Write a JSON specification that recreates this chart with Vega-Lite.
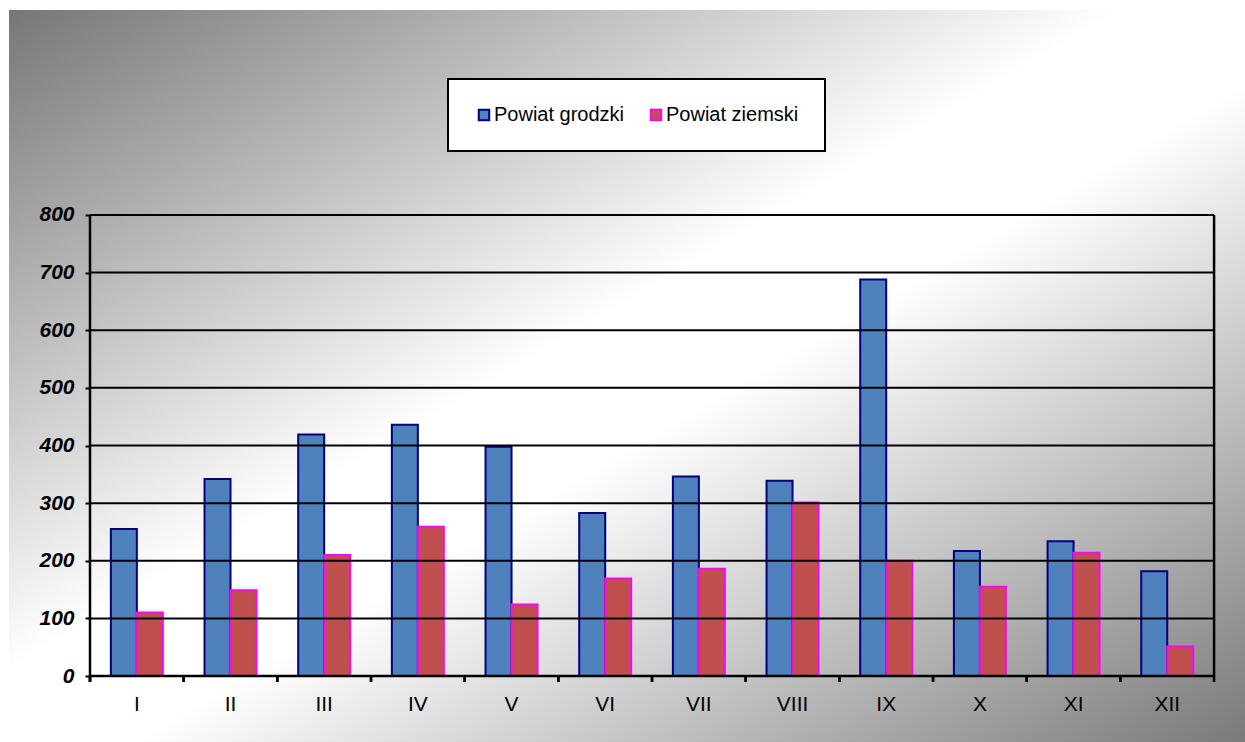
{
  "$schema": "https://vega.github.io/schema/vega-lite/v6.json",
  "width": 1236,
  "height": 732,
  "autosize": {"type": "none"},
  "padding": {"left": 9, "top": 10, "right": 0, "bottom": 0},
  "background": "#ffffff",
  "view": {
    "stroke": null,
    "fill": {
      "gradient": "linear",
      "x1": 0, "y1": 0, "x2": 1, "y2": 1,
      "stops": [
        {"offset": 0, "color": "#777777"},
        {"offset": 0.45, "color": "#ffffff"},
        {"offset": 0.55, "color": "#ffffff"},
        {"offset": 1, "color": "#7a7a7a"}
      ]
    }
  },
  "config": {
    "font": "Liberation Sans",
    "legend": {"strokeWidth": 2}
  },
  "datasets": {
    "months": [
      {"month": "I", "series": "Powiat grodzki", "value": 255},
      {"month": "I", "series": "Powiat ziemski", "value": 110},
      {"month": "II", "series": "Powiat grodzki", "value": 342},
      {"month": "II", "series": "Powiat ziemski", "value": 149},
      {"month": "III", "series": "Powiat grodzki", "value": 419},
      {"month": "III", "series": "Powiat ziemski", "value": 210},
      {"month": "IV", "series": "Powiat grodzki", "value": 436},
      {"month": "IV", "series": "Powiat ziemski", "value": 259},
      {"month": "V", "series": "Powiat grodzki", "value": 398},
      {"month": "V", "series": "Powiat ziemski", "value": 124},
      {"month": "VI", "series": "Powiat grodzki", "value": 283},
      {"month": "VI", "series": "Powiat ziemski", "value": 169},
      {"month": "VII", "series": "Powiat grodzki", "value": 346},
      {"month": "VII", "series": "Powiat ziemski", "value": 186},
      {"month": "VIII", "series": "Powiat grodzki", "value": 339},
      {"month": "VIII", "series": "Powiat ziemski", "value": 301},
      {"month": "IX", "series": "Powiat grodzki", "value": 688},
      {"month": "IX", "series": "Powiat ziemski", "value": 200},
      {"month": "X", "series": "Powiat grodzki", "value": 217},
      {"month": "X", "series": "Powiat ziemski", "value": 155},
      {"month": "XI", "series": "Powiat grodzki", "value": 234},
      {"month": "XI", "series": "Powiat ziemski", "value": 214},
      {"month": "XII", "series": "Powiat grodzki", "value": 182},
      {"month": "XII", "series": "Powiat ziemski", "value": 51}
    ],
    "grid": [
      {"level": 100}, {"level": 200}, {"level": 300}, {"level": 400},
      {"level": 500}, {"level": 600}, {"level": 700}, {"level": 800}
    ]
  },
  "layer": [
    {
      "data": {"name": "months"},
      "mark": {"type": "bar", "strokeWidth": 2},
      "encoding": {
        "x": {
          "field": "month",
          "type": "nominal",
          "sort": ["I", "II", "III", "IV", "V", "VI", "VII", "VIII", "IX", "X", "XI", "XII"],
          "scale": {"paddingInner": 0.445, "paddingOuter": 0.82, "align": 0.663, "round": false},
          "axis": {
            "title": null,
            "orient": "bottom",
            "offset": -66,
            "domain": false,
            "grid": false,
            "ticks": false,
            "tickSize": 6,
            "labelAngle": 0,
            "labelFont": "Liberation Sans",
            "labelFontSize": 21,
            "labelColor": "#000000",
            "labelPadding": 17
          }
        },
        "xOffset": {"field": "series", "type": "nominal", "sort": ["Powiat grodzki", "Powiat ziemski"]},
        "y": {
          "field": "value",
          "type": "quantitative",
          "scale": {"domain": [-114.5, 1155.7], "nice": false, "zero": false},
          "axis": {
            "title": null,
            "orient": "left",
            "offset": -81,
            "values": [0, 100, 200, 300, 400, 500, 600, 700, 800],
            "domain": false,
            "grid": false,
            "tickSize": 5,
            "tickWidth": 2,
            "tickColor": "#000000",
            "labelFont": "Liberation Sans",
            "labelFontSize": 21,
            "labelFontWeight": "bold",
            "labelFontStyle": "italic",
            "labelColor": "#000000",
            "labelPadding": 11
          }
        },
        "y2": {"datum": 0},
        "color": {
          "field": "series",
          "type": "nominal",
          "scale": {"domain": ["Powiat grodzki", "Powiat ziemski"], "range": ["#4F81BD", "#C0504D"]},
          "legend": {
            "title": null,
            "orient": "none",
            "legendX": 439,
            "legendY": 69,
            "direction": "horizontal",
            "columns": 2,
            "fillColor": "#ffffff",
            "strokeColor": "#000000",
            "padding": 26,
            "columnPadding": 21,
            "symbolType": "square",
            "symbolSize": 110,
            "symbolStrokeWidth": 2,
            "labelOffset": 0,
            "labelFont": "Liberation Sans",
            "labelFontSize": 20,
            "labelColor": "#000000"
          }
        },
        "stroke": {
          "field": "series",
          "type": "nominal",
          "scale": {"domain": ["Powiat grodzki", "Powiat ziemski"], "range": ["#000080", "#FF00FF"]},
          "legend": {
            "title": null,
            "orient": "none",
            "legendX": 439,
            "legendY": 69,
            "direction": "horizontal",
            "columns": 2,
            "fillColor": "#ffffff",
            "strokeColor": "#000000",
            "padding": 26,
            "columnPadding": 21,
            "symbolType": "square",
            "symbolSize": 110,
            "symbolStrokeWidth": 2,
            "labelOffset": 0,
            "labelFont": "Liberation Sans",
            "labelFontSize": 20,
            "labelColor": "#000000"
          }
        }
      }
    },
    {
      "data": {"name": "grid"},
      "mark": {"type": "rule", "color": "#000000", "strokeWidth": 2},
      "encoding": {
        "y": {"field": "level", "type": "quantitative"},
        "x": {"datum": "I", "type": "nominal", "bandPosition": -0.401},
        "x2": {"datum": "XII", "bandPosition": 1.401}
      }
    },
    {
      "data": {"name": "months"},
      "mark": {"type": "rule", "color": "#000000", "strokeWidth": 2.5},
      "encoding": {
        "x": {
          "field": "month",
          "type": "nominal",
          "sort": ["I", "II", "III", "IV", "V", "VI", "VII", "VIII", "IX", "X", "XI", "XII"],
          "bandPosition": -0.401
        },
        "y": {"datum": 0, "type": "quantitative"},
        "y2": {"datum": -10.4}
      }
    },
    {
      "data": {"values": [{}]},
      "mark": {"type": "rule", "color": "#000000", "strokeWidth": 2.5},
      "encoding": {
        "y": {"datum": 0, "type": "quantitative"},
        "x": {"datum": "I", "type": "nominal", "bandPosition": -0.401},
        "x2": {"datum": "XII", "bandPosition": 1.401}
      }
    },
    {
      "data": {"values": [{}]},
      "mark": {"type": "rule", "color": "#000000", "strokeWidth": 2.5},
      "encoding": {
        "x": {"datum": "I", "type": "nominal", "bandPosition": -0.401},
        "y": {"datum": -10.4, "type": "quantitative"},
        "y2": {"datum": 800}
      }
    },
    {
      "data": {"values": [{}]},
      "mark": {"type": "rule", "color": "#000000", "strokeWidth": 2.5},
      "encoding": {
        "x": {"datum": "XII", "type": "nominal", "bandPosition": 1.401},
        "y": {"datum": -10.4, "type": "quantitative"},
        "y2": {"datum": 800}
      }
    }
  ]
}
